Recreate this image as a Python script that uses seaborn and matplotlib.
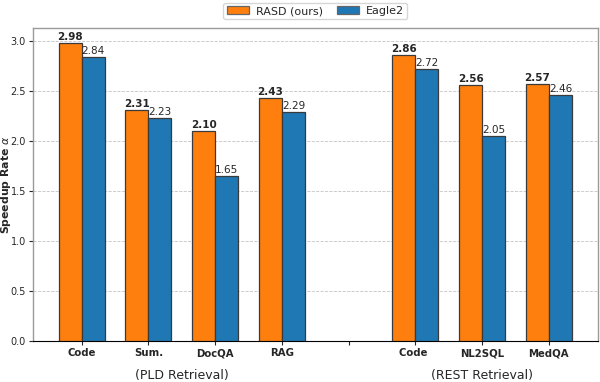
import matplotlib
matplotlib.use("Agg")
import matplotlib.pyplot as plt
import seaborn as sns
import pandas as pd

categories = ["Code", "Sum.", "DocQA", "RAG", "", "Code ", "NL2SQL", "MedQA"]
rasd = [2.98, 2.31, 2.10, 2.43, 0, 2.86, 2.56, 2.57]
eagle = [2.84, 2.23, 1.65, 2.29, 0, 2.72, 2.05, 2.46]
series = ["RASD (ours)", "Eagle2"]
groups = ["(PLD Retrieval)", "(REST Retrieval)"]

sns.set_style("white")
plt.rcParams['font.family'] = ['DejaVu Sans']

df = pd.DataFrame({
    "cat": categories * 2,
    "val": rasd + eagle,
    "method": [series[0]] * len(categories) + [series[1]] * len(categories),
})

fig, ax = plt.subplots(figsize=(6, 3.82), dpi=100)
sns.barplot(data=df, x="cat", y="val", hue="method", order=categories,
            palette=["#ff7f0e", "#1f77b4"], saturation=1, width=0.69,
            edgecolor="#3a3a3a", linewidth=0.9, ax=ax, zorder=3)

for ci, cont in enumerate(ax.containers):
    for bar, v in zip(cont, rasd if ci == 0 else eagle):
        if v == 0:
            bar.set_visible(False)
            continue
        ax.text(bar.get_x() + bar.get_width() / 2, v + 0.015, f"{v:.2f}",
                ha="center", va="bottom", fontsize=7.5,
                fontweight="bold" if ci == 0 else "normal")

ax.set_ylim(0, max(rasd) * 1.05)
ax.set_xlim(-0.73, len(categories) - 0.27)
ax.set_xlabel("")
ax.set_ylabel(r"Speedup Rate $\alpha$", fontsize=7.8, fontweight="bold")
ax.yaxis.set_label_coords(-0.0362, 0.5)
ax.tick_params(axis="y", labelsize=7, length=3, pad=2, left=True)
ax.tick_params(axis="x", labelsize=7.3, length=3, pad=2, bottom=True)
for lbl in ax.get_xticklabels():
    lbl.set_fontweight("bold")
ax.yaxis.grid(True, linestyle="--", color="#c4c4c4", linewidth=0.6, zorder=0)
ax.set_axisbelow(True)
for s in ["top", "right", "left"]:
    ax.spines[s].set_color("#9a9a9a")
    ax.spines[s].set_linewidth(1.0)
ax.spines["bottom"].set_color("black")

leg = ax.legend(loc="lower center", bbox_to_anchor=(0.5, 1.0), ncol=2, fontsize=8,
                frameon=True, handlelength=2.0, columnspacing=1.3, handletextpad=0.6,
                borderaxespad=0.8, borderpad=0.3)
for h in leg.legend_handles:
    h.set_edgecolor("#666666")

ax.text(1.5, -0.11, groups[0], transform=ax.get_xaxis_transform(),
        ha="center", va="center", fontsize=9)
ax.text(6.0, -0.11, groups[1], transform=ax.get_xaxis_transform(),
        ha="center", va="center", fontsize=9)

fig.subplots_adjust(left=0.055, right=0.996, top=0.926, bottom=0.107)
fig.savefig("out.png", dpi=100)
